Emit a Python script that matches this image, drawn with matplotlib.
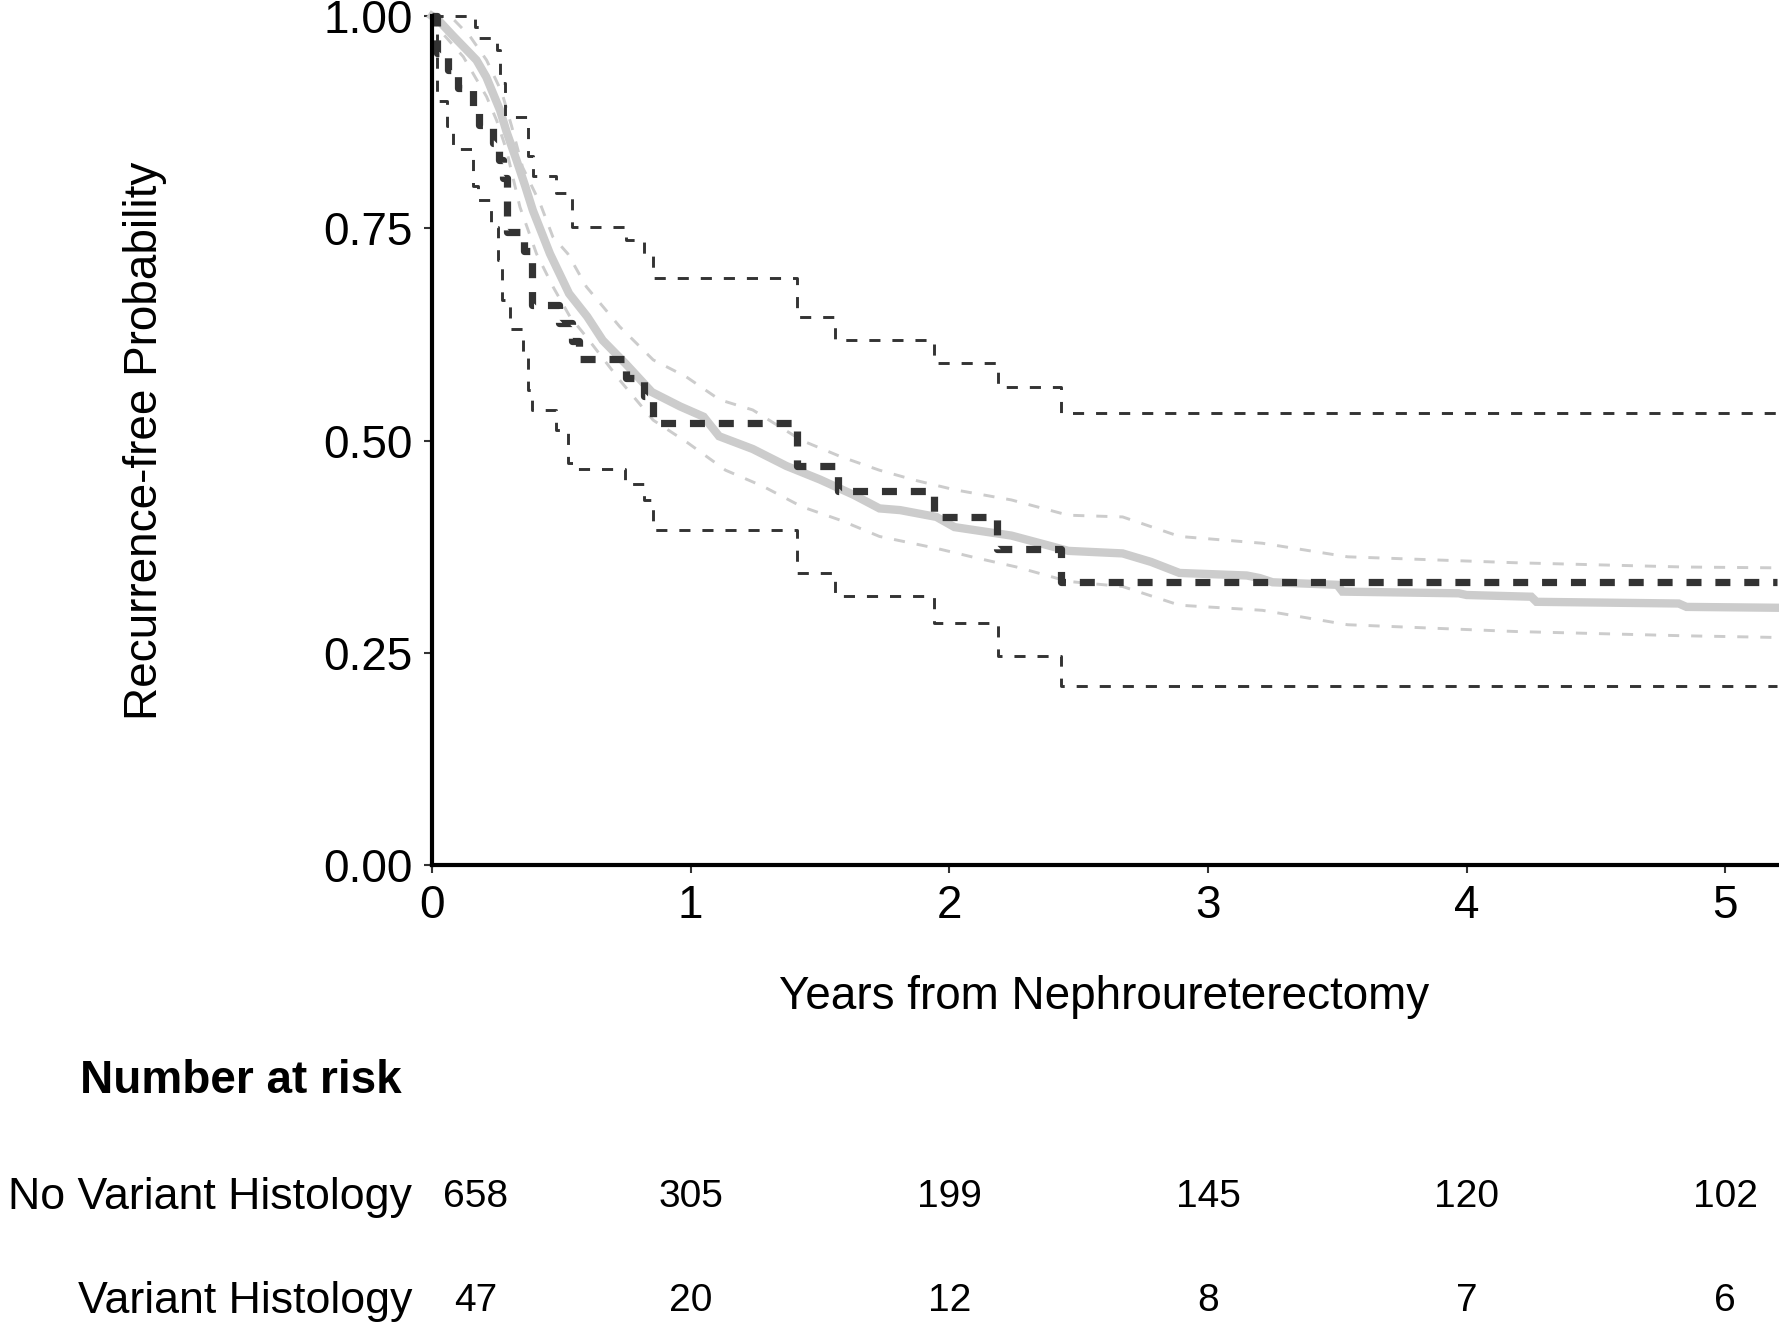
import matplotlib
matplotlib.use("Agg")
import matplotlib.pyplot as plt
import matplotlib.transforms as mtransforms
from matplotlib import font_manager

plt.rcParams['font.family'] = ['Liberation Sans', 'DejaVu Sans']
plt.rcParams['lines.scale_dashes'] = False

# no variant histology: KM estimate and 95% CI
nv_t = [0.0, 0.025, 0.08, 0.15, 0.172, 0.21, 0.263, 0.29, 0.327, 0.36, 0.39, 0.456, 0.53, 0.60, 0.66,
        0.75, 0.85, 0.96, 1.05, 1.11, 1.24, 1.37, 1.50, 1.63, 1.73, 1.81, 1.95, 2.02, 2.24,
        2.40, 2.46, 2.67, 2.78, 2.89, 3.15, 3.20, 3.25, 3.50, 3.52, 3.97, 4.0, 4.25, 4.27,
        4.82, 4.85, 5.2]
nv_s = [1.0, 0.995, 0.977, 0.955, 0.948, 0.928, 0.889, 0.862, 0.83, 0.80, 0.771, 0.72, 0.673, 0.646, 0.618,
        0.59, 0.557, 0.54, 0.528, 0.505, 0.49, 0.47, 0.454, 0.436, 0.42, 0.418, 0.41, 0.398, 0.388,
        0.375, 0.37, 0.367, 0.357, 0.344, 0.341, 0.338, 0.333, 0.330, 0.322, 0.320, 0.318, 0.316, 0.310,
        0.308, 0.304, 0.303]

nv_up_t = [0.0, 0.08, 0.147, 0.211, 0.27, 0.308, 0.35, 0.417, 0.467, 0.525, 0.597, 0.726, 0.855, 0.983, 1.112,
           1.24, 1.43, 1.58, 1.73, 1.87, 2.02, 2.24, 2.46, 2.67, 2.89, 3.21, 3.54, 4.19, 4.84, 5.2]
nv_up_s = [1.0, 0.997, 0.976, 0.948, 0.91, 0.87, 0.822, 0.78, 0.74, 0.72, 0.681, 0.634, 0.595, 0.575, 0.548,
           0.536, 0.50, 0.481, 0.465, 0.453, 0.442, 0.43, 0.412, 0.41, 0.387, 0.379, 0.363, 0.356, 0.351, 0.35]

nv_lo_t = [0.0, 0.031, 0.121, 0.211, 0.25, 0.288, 0.34, 0.404, 0.468, 0.533, 0.597, 0.726, 0.855, 0.99,
           1.135, 1.28, 1.43, 1.58, 1.73, 1.95, 2.10, 2.26, 2.46, 2.67, 2.89, 3.21, 3.54, 4.19, 4.84, 5.2]
nv_lo_s = [1.0, 0.983, 0.952, 0.905, 0.877, 0.842, 0.775, 0.72, 0.681, 0.646, 0.622, 0.571, 0.524, 0.497,
           0.465, 0.446, 0.422, 0.406, 0.387, 0.373, 0.362, 0.351, 0.334, 0.328, 0.306, 0.30, 0.283, 0.275, 0.27, 0.268]

# variant histology: KM step function and 95% CI
v_t = [0.0, 0.02, 0.06, 0.10, 0.16, 0.18, 0.235, 0.26, 0.275, 0.29, 0.355, 0.385, 0.49, 0.54,
       0.57, 0.75, 0.82, 0.855, 1.41, 1.57, 1.94, 2.185, 2.43, 5.2]
v_s = [1.0, 0.957, 0.936, 0.915, 0.894, 0.872, 0.851, 0.830, 0.809, 0.745, 0.723, 0.660, 0.638, 0.617,
       0.596, 0.574, 0.553, 0.521, 0.47, 0.44, 0.41, 0.372, 0.333, 0.333]

v_up_t = [0.0, 0.166, 0.18, 0.25, 0.263, 0.282, 0.372, 0.391, 0.48, 0.54, 0.75, 0.82, 0.855,
          1.41, 1.56, 1.94, 2.19, 2.43, 5.2]
v_up_s = [1.0, 0.987, 0.974, 0.96, 0.921, 0.881, 0.835, 0.811, 0.792, 0.752, 0.736, 0.717, 0.691,
          0.645, 0.618, 0.591, 0.563, 0.532, 0.532]

v_lo_t = [0.0, 0.02, 0.057, 0.082, 0.16, 0.179, 0.23, 0.256, 0.269, 0.30, 0.353, 0.372, 0.385,
          0.48, 0.527, 0.546, 0.745, 0.82, 0.855, 1.41, 1.56, 1.94, 2.19, 2.43, 5.2]
v_lo_s = [1.0, 0.90, 0.87, 0.843, 0.80, 0.783, 0.752, 0.713, 0.665, 0.631, 0.603, 0.559, 0.536,
          0.512, 0.473, 0.467, 0.449, 0.43, 0.395, 0.344, 0.317, 0.285, 0.246, 0.211, 0.211]

# number at risk table
risk_times = [0, 1, 2, 3, 4, 5]
risk_groups = ["No Variant Histology", "Variant Histology"]
risk_counts = [[658, 305, 199, 145, 120, 102],
               [47, 20, 12, 8, 7, 6]]

W, H = 1779, 1323
fig = plt.figure(figsize=(W / 100, H / 100), dpi=100)
ax = fig.add_axes([432 / W, 1 - 865 / H, 1345 / W, 849 / H])

light = "#CCCCCC"
dark = "#333333"

ax.plot(nv_up_t, nv_up_s, color=light, lw=2.1, dashes=(8, 8.6), clip_on=False)
ax.plot(nv_lo_t, nv_lo_s, color=light, lw=2.1, dashes=(8, 8.6), clip_on=False)
ax.plot(nv_t, nv_s, color=light, lw=6, solid_joinstyle="miter", clip_on=False)
ax.plot(v_up_t, v_up_s, color=dark, lw=2.1, dashes=(8, 8.6), drawstyle="steps-post", clip_on=False)
ax.plot(v_lo_t, v_lo_s, color=dark, lw=2.1, dashes=(8, 8.6), drawstyle="steps-post", clip_on=False)
ax.plot(v_t, v_s, color=dark, lw=5.2, dashes=(10.8, 10), drawstyle="steps-post", clip_on=False)

ax.set_xlim(0, 5.2)
ax.set_ylim(0, 1)
ax.set_xticks(risk_times)
ax.set_yticks([0, 0.25, 0.5, 0.75, 1.0])
ax.set_yticklabels(["0.00", "0.25", "0.50", "0.75", "1.00"])
ax.tick_params(labelsize=33, length=6, width=1.5, color=dark, labelcolor="black", pad=8)
for s in ["top", "right"]:
    ax.spines[s].set_visible(False)
for s in ["left", "bottom"]:
    ax.spines[s].set_linewidth(3)
    ax.spines[s].set_color("black")

ax.set_xlabel("Years from Nephroureterectomy", fontsize=33, va="center")
ax.xaxis.set_label_coords(0.5, (865 - 997) / 849)
ax.set_ylabel("Recurrence-free Probability", fontsize=33, va="center", ha="center")
ax.yaxis.set_label_coords((145 - 432) / 1345, 0.5)

# narrow font for the table numbers if it is there
names = {f.name for f in font_manager.fontManager.ttflist}
if "Liberation Sans Narrow" in names:
    num_font, num_size = "Liberation Sans Narrow", 33
else:
    num_font, num_size = "Liberation Sans", 28

fig.text(241 / W, 1 - 1081 / H, "Number at risk", fontsize=33, fontweight="bold",
         ha="center", va="center")
row_y = [1 - 1197 / H, 1 - 1301 / H]
trans = mtransforms.blended_transform_factory(ax.transData, fig.transFigure)
for grp, counts, y in zip(risk_groups, risk_counts, row_y):
    fig.text(412 / W, y, grp, fontsize=32.2, ha="right", va="center")
    for t, n in zip(risk_times, counts):
        xpos = t if t > 0 else 0.17
        ax.text(xpos, y, str(n), transform=trans, fontsize=num_size, family=num_font,
                ha="center", va="center", clip_on=False)

fig.savefig("out.png", dpi=100)
